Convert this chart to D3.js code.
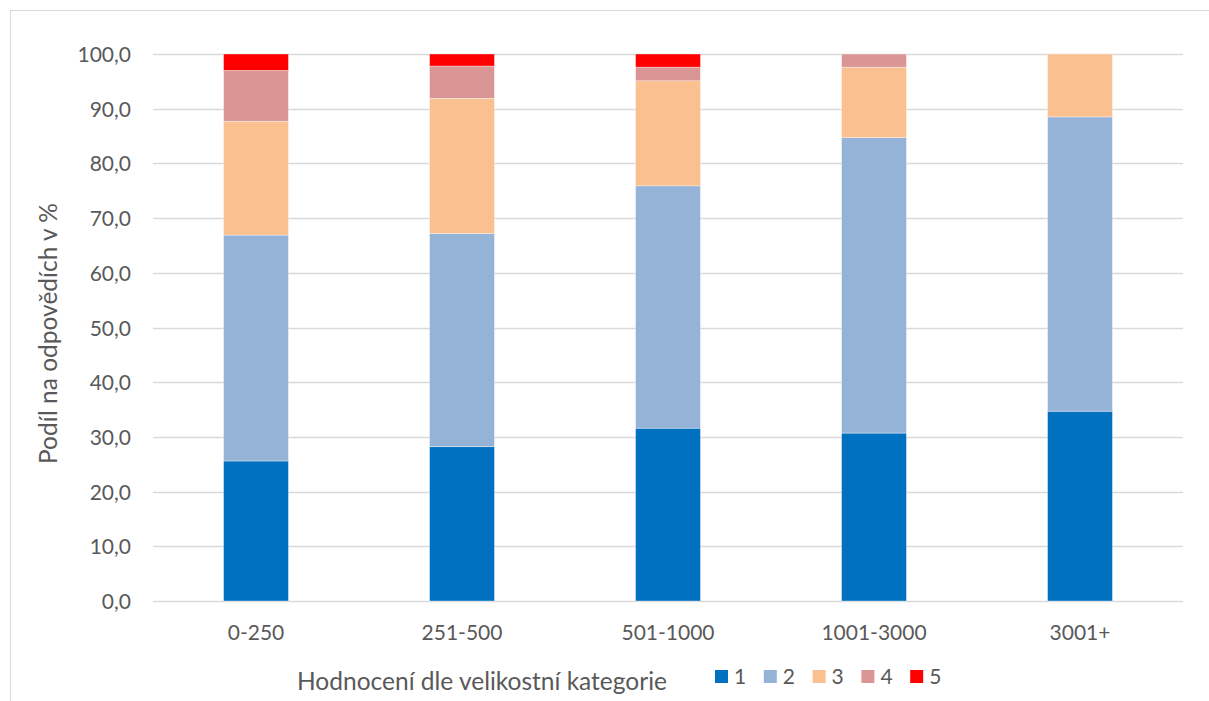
<!DOCTYPE html>
<html><head><meta charset="utf-8">
<script src="https://cdn.jsdelivr.net/npm/d3@7"></script>
<style>body{margin:0;background:#fff}svg{display:block}text{font-family:Lato,"Open Sans",sans-serif;fill:#595959}</style>
</head><body><svg id="c" width="1209" height="701"></svg>
<script>
const categories = ["0-250","251-500","501-1000","1001-3000","3001+"];
const seriesNames = ["1","2","3","4","5"];
const s1 = [25.6, 28.2, 31.6, 30.7, 34.7];
const s2 = [41.3, 39.0, 44.3, 54.0, 53.8];
const s3 = [20.8, 24.7, 19.2, 12.9, 11.5];
const s4 = [9.3, 5.9, 2.5, 2.4, 0.0];
const s5 = [3.0, 2.2, 2.4, 0.0, 0.0];
const yTicks = [0,10,20,30,40,50,60,70,80,90,100];
const colors = ["#0070C0","#95B3D7","#FAC090","#D99694","#FF0000"];
const xTitle = "Hodnocení dle velikostní kategorie";
const yTitle = "Podíl na odpovědích v %";

const series = [s1,s2,s3,s4,s5];
const rows = categories.map((c,i)=>{const r={cat:c}; seriesNames.forEach((n,j)=>r[n]=series[j][i]); return r;});
const stacked = d3.stack().keys(seriesNames)(rows);

const svg = d3.select("#c");
svg.append("rect").attr("x",10.5).attr("y",10.5).attr("width",1220).attr("height",720)
  .attr("fill","none").attr("stroke","#D9D9D9");

const L=153, R=1183, T=54, B=601;
const x = d3.scaleBand().domain(categories).range([L,R]).paddingInner(0.685).paddingOuter(0.3425);
const y = d3.scaleLinear().domain([0,100]).range([B,T]);

const g = svg.append("g");
g.selectAll("line.grid").data(yTicks).join("line")
  .attr("x1",L).attr("x2",R).attr("y1",d=>Math.round(y(d))+0.5).attr("y2",d=>Math.round(y(d))+0.5)
  .attr("stroke","#D9D9D9").attr("stroke-width",1.3);

stacked.forEach((s,j)=>{
  g.selectAll(null).data(s).join("rect")
    .attr("x",d=>x(d.data.cat)).attr("width",x.bandwidth())
    .attr("y",d=>y(d[1])).attr("height",d=>Math.max(0,y(d[0])-y(d[1])))
    .attr("fill",colors[j]).attr("stroke", d=>(d[1]-d[0])>0?"#ffffff":"none").attr("stroke-width",0.6).attr("stroke-opacity",0.6);
});

const yAxis = d3.axisLeft(y).tickValues(yTicks).tickSize(0).tickPadding(22)
  .tickFormat(d=>d3.format(".1f")(d).replace(".",","));
const ya = svg.append("g").attr("transform",`translate(${L},0)`).call(yAxis);
ya.select(".domain").remove();
ya.selectAll("text").style("font-size","21px").attr("fill","#595959").attr("dy","0.36em");

const xAxis = d3.axisBottom(x).tickSize(0).tickPadding(24);
const xa = svg.append("g").attr("transform",`translate(0,${B})`).call(xAxis);
xa.select(".domain").remove();
xa.selectAll("text").style("font-size","21px").attr("fill","#595959");

svg.append("text").attr("transform",`translate(57,${(T+B)/2+6}) rotate(-90)`)
  .attr("text-anchor","middle").style("font-size","24.5px").text(yTitle);

svg.append("text").attr("x",482).attr("y",690).attr("text-anchor","middle").style("font-size","24.5px").text(xTitle);

const lg = svg.append("g");
seriesNames.forEach((n,j)=>{
  const lx = 715 + j*48.8;
  lg.append("rect").attr("x",lx).attr("y",670).attr("width",13).attr("height",13).attr("fill",colors[j]);
  lg.append("text").attr("x",lx+19).attr("y",684).style("font-size","21px").text(n);
});
</script></body></html>
